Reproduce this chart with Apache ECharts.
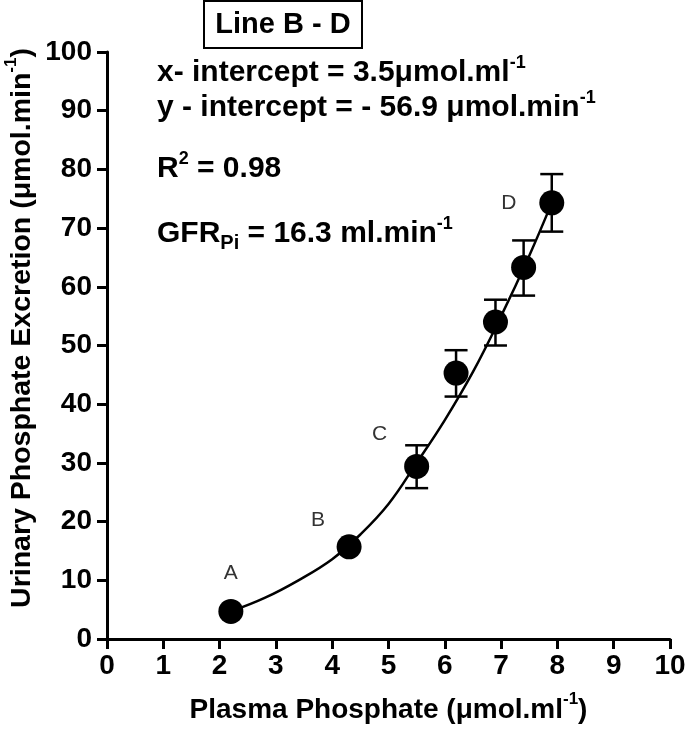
<!DOCTYPE html>
<html>
<head>
<meta charset="utf-8">
<script src="https://cdn.jsdelivr.net/npm/echarts@6/dist/echarts.min.js"></script>
<style>html,body{margin:0;padding:0;background:#fff}#c{width:685px;height:736px}</style>
</head>
<body>
<div id="c"></div>
<script>
// Data
var pointX    = [2.2, 4.3, 5.5, 6.2, 6.9, 7.4, 7.9];
var pointY    = [4.7, 15.7, 29.4, 45.3, 54.0, 63.3, 74.3];
var errLow    = [4.7, 15.7, 25.7, 41.3, 50.0, 58.5, 69.4];
var errHigh   = [4.7, 15.7, 33.0, 49.2, 57.8, 67.9, 79.2];
var pointName = ['A', 'B', 'C', '', '', '', 'D'];
var curveX    = [2.2, 2.8, 3.4, 4.0, 4.5, 5.0, 5.5, 6.0, 6.5, 7.0, 7.5, 7.9];
var curveY    = [4.7, 7.0, 10.0, 13.6, 17.8, 23.0, 30.0, 37.3, 45.5, 55.0, 65.3, 74.3];
var xTicks    = [0, 10, 1];   // min, max, interval
var yTicks    = [0, 100, 10];

var FONT = '"Liberation Sans", Arial, sans-serif';
var labelOffsets = {A: [0, -38], B: [-31, -27], C: [-37, -32], D: [-43, 0]};

var chart = echarts.init(document.getElementById('c'), null, {renderer: 'canvas'});

var scatterData = pointX.map(function (x, i) {
  var n = pointName[i];
  var d = {value: [x, pointY[i]]};
  if (n) {
    d.label = {show: true, formatter: n, position: 'inside', offset: labelOffsets[n],
      color: '#333', fontSize: 21, fontFamily: FONT, fontWeight: 'normal'};
  }
  return d;
});
var errData = pointX.map(function (x, i) { return [x, errLow[i], errHigh[i]]; });
var curveData = curveX.map(function (x, i) { return [x, curveY[i]]; });

var axisLine = {show: true, lineStyle: {color: '#000', width: 3}};
var axisTick = {show: true, inside: false, length: 10, lineStyle: {color: '#000', width: 3}};
var tickLabel = {color: '#000', fontSize: 28, fontWeight: 'bold', fontFamily: FONT};

function rich(size) {
  var base = {fontFamily: FONT, fontWeight: 'bold', fontSize: size, color: '#000', lineHeight: 38};
  return {
    sup: Object.assign({}, base, {fontSize: Math.round(size * 0.6), verticalAlign: 'top'}),
    sub: Object.assign({}, base, {fontSize: Math.round(size * 0.66), verticalAlign: 'bottom'}),
    n: base
  };
}

chart.setOption({
  animation: false,
  backgroundColor: '#fff',
  grid: {left: 107, right: 15, top: 52, bottom: 97, containLabel: false, outerBoundsMode: 'none'},
  xAxis: {
    type: 'value', min: xTicks[0], max: xTicks[1], interval: xTicks[2],
    axisLine: axisLine, axisTick: axisTick, splitLine: {show: false},
    axisLabel: Object.assign({margin: 13}, tickLabel),
    name: '{n|Plasma Phosphate (\u03bcmol.ml}{sup|-1}{n|)}',
    nameLocation: 'middle', nameGap: 52,
    nameTextStyle: {rich: rich(28)}
  },
  yAxis: {
    type: 'value', min: yTicks[0], max: yTicks[1], interval: yTicks[2],
    axisLine: axisLine, axisTick: axisTick, splitLine: {show: false},
    axisLabel: Object.assign({margin: 15}, tickLabel)
  },
  graphic: [
    {type: 'rect', shape: {x: 204, y: 1, width: 158, height: 47},
     style: {fill: 'none', stroke: '#000', lineWidth: 2}},
    {type: 'text', style: {x: 283, y: 25, text: 'Line B - D', align: 'center', verticalAlign: 'middle',
      font: 'bold 29px ' + FONT, fill: '#000'}},
    {type: 'text', x: 22, y: 328, rotation: Math.PI / 2,
     style: {x: 0, y: 0, align: 'center', verticalAlign: 'middle',
      text: '{n|Urinary Phosphate Excretion (\u03bcmol.min}{sup|-1}{n|)}', rich: rich(28.5)}},
    {type: 'text', style: {x: 157, y: 73, verticalAlign: 'middle',
      text: '{n|x- intercept = 3.5\u03bcmol.ml}{sup|-1}', rich: rich(30)}},
    {type: 'text', style: {x: 157, y: 108, verticalAlign: 'middle',
      text: '{n|y - intercept = - 56.9 \u03bcmol.min}{sup|-1}', rich: rich(30)}},
    {type: 'text', style: {x: 157, y: 169, verticalAlign: 'middle',
      text: '{n|R}{sup|2}{n| = 0.98}', rich: rich(30)}},
    {type: 'text', style: {x: 157, y: 234, verticalAlign: 'middle',
      text: '{n|GFR}{sub|Pi}{n| = 16.3 ml.min}{sup|-1}', rich: rich(30)}}
  ],
  series: [
    {
      type: 'line', data: curveData, smooth: 0.4, showSymbol: false, z: 2,
      lineStyle: {color: '#000', width: 2.5}, silent: true
    },
    {
      type: 'custom', z: 3, silent: true, data: errData,
      renderItem: function (params, api) {
        var x = api.value(0);
        var lo = api.coord([x, api.value(1)]);
        var hi = api.coord([x, api.value(2)]);
        var hw = 11.5;
        var st = {stroke: '#000', lineWidth: 2.5};
        return {
          type: 'group',
          children: [
            {type: 'line', shape: {x1: lo[0], y1: lo[1], x2: hi[0], y2: hi[1]}, style: st},
            {type: 'line', shape: {x1: lo[0] - hw, y1: lo[1], x2: lo[0] + hw, y2: lo[1]}, style: st},
            {type: 'line', shape: {x1: hi[0] - hw, y1: hi[1], x2: hi[0] + hw, y2: hi[1]}, style: st}
          ]
        };
      }
    },
    {
      type: 'scatter', data: scatterData, symbol: 'circle', symbolSize: 25, z: 4,
      itemStyle: {color: '#000', opacity: 1}
    }
  ]
});
</script>
</body>
</html>
